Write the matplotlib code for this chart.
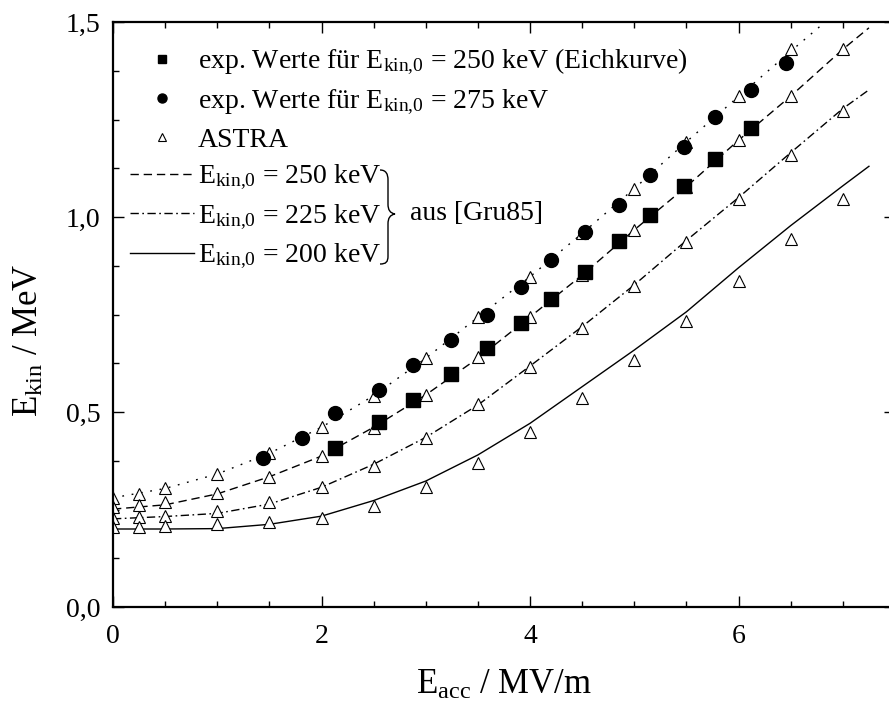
import numpy as np
import matplotlib
matplotlib.use("Agg")
import matplotlib.pyplot as plt
from matplotlib.ticker import MultipleLocator, FixedLocator, FixedFormatter
from matplotlib.path import Path
from matplotlib.patches import PathPatch
import matplotlib.transforms as mtransforms

plt.rcParams['font.family'] = ['Liberation Serif', 'DejaVu Serif']
plt.rcParams['mathtext.fontset'] = 'custom'
plt.rcParams['mathtext.rm'] = 'Liberation Serif'
plt.rcParams['mathtext.it'] = 'Liberation Serif:italic'
plt.rcParams['mathtext.default'] = 'rm'

# exp. Werte, E_kin,0 = 250 keV (Eichkurve)
x_sq = [2.13, 2.55, 2.88, 3.24, 3.59, 3.91, 4.20, 4.53, 4.85, 5.15, 5.48, 5.77, 6.12]
y_sq = [0.408, 0.475, 0.532, 0.597, 0.663, 0.729, 0.790, 0.860, 0.938, 1.005, 1.080, 1.150, 1.229]

# exp. Werte, E_kin,0 = 275 keV
x_ci = [1.44, 1.815, 2.13, 2.55, 2.88, 3.24, 3.59, 3.91, 4.20, 4.53, 4.85, 5.15, 5.48, 5.77, 6.12, 6.45]
y_ci = [0.381, 0.434, 0.497, 0.556, 0.620, 0.685, 0.749, 0.821, 0.891, 0.961, 1.032, 1.108, 1.179, 1.256, 1.326, 1.396]

# ASTRA
x_astra = [0, 0.25, 0.5, 1.0, 1.5, 2.0, 2.5, 3.0, 3.5, 4.0, 4.5, 5.0, 5.5, 6.0, 6.5, 7.0]
astra_275 = [0.279, 0.290, 0.304, 0.341, 0.394, 0.461, 0.542, 0.638, 0.743, 0.847, 0.958, 1.073, 1.193, 1.309, 1.430]
astra_250 = [0.256, 0.262, 0.268, 0.293, 0.333, 0.387, 0.460, 0.544, 0.640, 0.744, 0.851, 0.967, 1.078, 1.197, 1.310, 1.430]
astra_225 = [0.227, 0.232, 0.234, 0.246, 0.268, 0.307, 0.362, 0.434, 0.520, 0.615, 0.716, 0.823, 0.937, 1.046, 1.159, 1.272]
astra_200 = [0.206, 0.206, 0.208, 0.213, 0.217, 0.229, 0.259, 0.307, 0.370, 0.448, 0.537, 0.633, 0.733, 0.836, 0.943, 1.046]

# Kurven aus [Gru85]
x_gru = [0, 0.5, 1.0, 1.5, 2.0, 2.5, 3.0, 3.5, 4.0, 4.5, 5.0, 5.5, 6.0, 6.5, 7.0, 7.25]
gru_250 = [0.251, 0.262, 0.290, 0.334, 0.387, 0.461, 0.544, 0.638, 0.744, 0.851, 0.967, 1.078, 1.197, 1.310, 1.430, 1.485]
gru_225 = [0.226, 0.232, 0.240, 0.264, 0.307, 0.366, 0.435, 0.518, 0.618, 0.719, 0.826, 0.940, 1.050, 1.165, 1.278, 1.326]
gru_200 = [0.200, 0.200, 0.201, 0.212, 0.233, 0.273, 0.323, 0.390, 0.471, 0.565, 0.659, 0.757, 0.870, 0.978, 1.080, 1.130]
x_gru275 = [0, 0.5, 1.0, 1.5, 2.0, 2.5, 3.0, 3.5, 4.0, 4.5, 5.0, 5.5, 6.0, 6.5, 6.83]
gru_275 = [0.280, 0.304, 0.341, 0.394, 0.461, 0.542, 0.638, 0.743, 0.847, 0.958, 1.073, 1.193, 1.309, 1.425, 1.500]

y_ticks = [0.0, 0.5, 1.0, 1.5]
y_ticklabels = ["0,0", "0,5", "1,0", "1,5"]
x_ticks = [0, 2, 4, 6]
x_ticklabels = ["0", "2", "4", "6"]

W, H = 889, 706
fig = plt.figure(figsize=(W / 100, H / 100), dpi=100)
# axes reach past the right image border (as in the cropped original)
ax = fig.add_axes([113 / W, 1 - 607 / H, 782 / W, 585 / H])

lw = 1.0
l275, = ax.plot(x_gru275, gru_275, color='black', lw=lw, linestyle=(0, (1.3, 5.5)))
l250, = ax.plot(x_gru, gru_250, color='black', lw=lw, linestyle=(0, (6, 3.5)))
l225, = ax.plot(x_gru, gru_225, color='black', lw=lw, linestyle=(0, (6, 2.5, 1.2, 2.5)))
l200, = ax.plot(x_gru, gru_200, color='black', lw=lw, linestyle='-')

tri_kw = dict(linestyle='none', marker='^', markersize=8.5, markerfacecolor='white',
              markeredgecolor='black', markeredgewidth=0.8)
ax.plot(x_astra[:len(astra_275)], astra_275, **tri_kw)
ax.plot(x_astra, astra_250, **tri_kw)
ax.plot(x_astra, astra_225, **tri_kw)
tri, = ax.plot(x_astra, astra_200, **tri_kw)

sq, = ax.plot(x_sq, y_sq, linestyle='none', marker='s', markersize=9.5, color='black')
ci, = ax.plot(x_ci, y_ci, linestyle='none', marker='o', markersize=10, color='black')

ax.set_xlim(0, 7.5)
ax.set_ylim(0, 1.5)

ax.xaxis.set_major_locator(FixedLocator(x_ticks))
ax.xaxis.set_major_formatter(FixedFormatter(x_ticklabels))
ax.yaxis.set_major_locator(FixedLocator(y_ticks))
ax.yaxis.set_major_formatter(FixedFormatter(y_ticklabels))
ax.xaxis.set_minor_locator(MultipleLocator(0.5))
ax.yaxis.set_minor_locator(MultipleLocator(0.125))
ax.tick_params(which='both', direction='in', top=True, right=True, width=1.0, colors='black')
ax.tick_params(which='major', length=8, labelsize=20)
ax.tick_params(axis='y', which='major', pad=9)
ax.tick_params(axis='x', which='major', pad=12)
ax.tick_params(which='minor', length=4.5)
for s in ax.spines.values():
    s.set_linewidth(1.6)

ax.set_xlabel(r"E$_{\mathrm{acc}}$ / MV/m", fontsize=25)
ax.set_ylabel(r"E$_{\mathrm{kin}}$ / MeV", fontsize=25)
ax.xaxis.set_label_coords(0.5, -0.105)
ax.yaxis.set_label_coords(-0.086, 0.456)

handles = [sq, ci, tri, l250, l225, l200]
labels = [r"exp. Werte für E$_{\mathrm{kin{,}0}}$ = 250 keV (Eichkurve)",
          r"exp. Werte für E$_{\mathrm{kin{,}0}}$ = 275 keV",
          r"ASTRA",
          r"E$_{\mathrm{kin{,}0}}$ = 250 keV",
          r"E$_{\mathrm{kin{,}0}}$ = 225 keV",
          r"E$_{\mathrm{kin{,}0}}$ = 200 keV"]
leg = ax.legend(handles, labels, loc='upper left', bbox_to_anchor=(0.0217, 0.957),
                frameon=False, fontsize=20, handlelength=2.3, handletextpad=0.15,
                borderpad=0, borderaxespad=0, labelspacing=0.37, markerscale=0.65)

# brace and "aus [Gru85]"
pix = mtransforms.Affine2D().scale(1 / W, -1 / H).translate(0, 1) + fig.transFigure
verts = [(380, 170), (386, 170), (388, 174), (388, 180),
         (388, 204),
         (388, 210), (390, 213), (395, 214),
         (390, 215), (388, 218), (388, 224),
         (388, 256),
         (388, 262), (386, 264), (380, 264)]
codes = [Path.MOVETO, Path.CURVE4, Path.CURVE4, Path.CURVE4,
         Path.LINETO,
         Path.CURVE4, Path.CURVE4, Path.CURVE4,
         Path.CURVE4, Path.CURVE4, Path.CURVE4,
         Path.LINETO,
         Path.CURVE4, Path.CURVE4, Path.CURVE4]
fig.add_artist(PathPatch(Path(verts, codes), transform=pix, fill=False, lw=1.0, edgecolor='black'))
fig.text(410 / W, 1 - 214 / H, "aus [Gru85]", fontsize=20, va='center', ha='left')

fig.savefig("out.png", dpi=100, facecolor='white')
